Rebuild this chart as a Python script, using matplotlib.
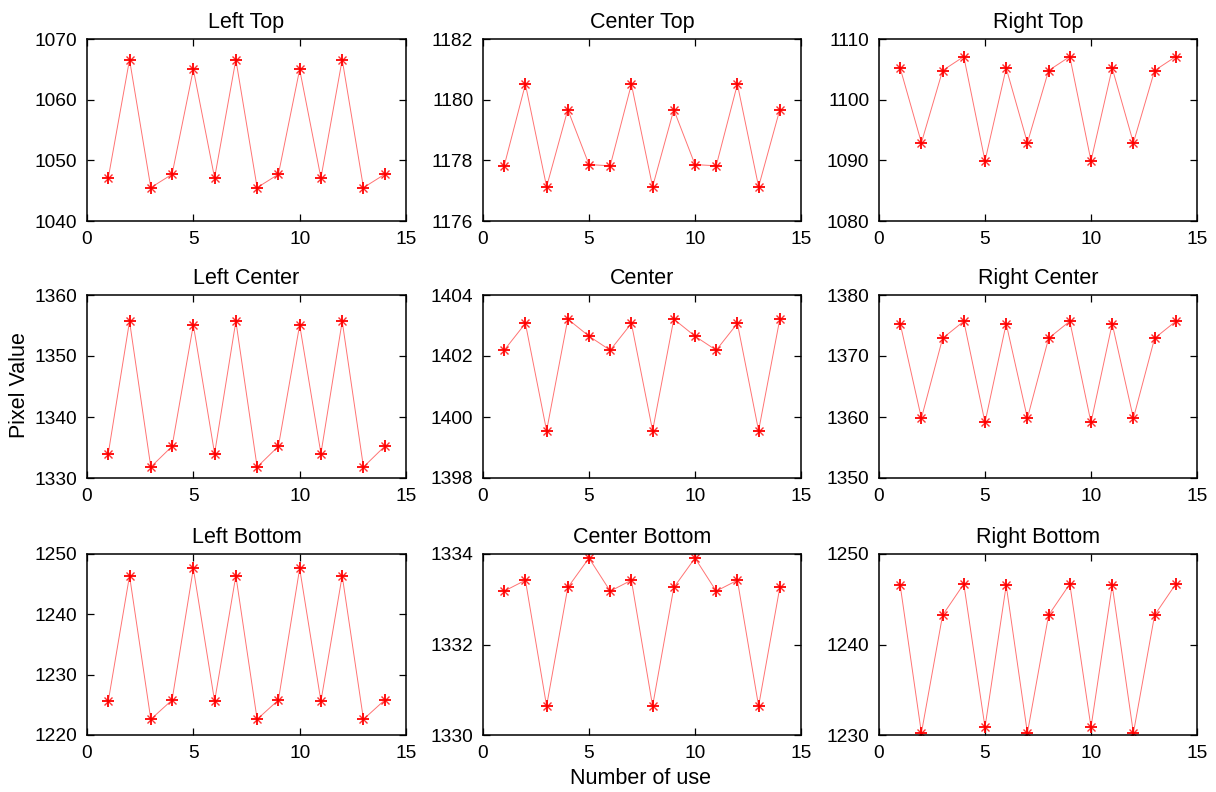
import matplotlib
matplotlib.use("Agg")
import matplotlib.pyplot as plt

plt.rcParams['font.family'] = ['Liberation Sans', 'DejaVu Sans']

uses = list(range(1, 15))

titles = ["Left Top", "Center Top", "Right Top",
          "Left Center", "Center", "Right Center",
          "Left Bottom", "Center Bottom", "Right Bottom"]

left_top = [1047.1, 1066.6, 1045.5, 1047.7, 1065.0, 1047.1, 1066.6,
            1045.5, 1047.7, 1065.0, 1047.1, 1066.6, 1045.5, 1047.7]
center_top = [1177.82, 1180.51, 1177.13, 1179.67, 1177.86, 1177.82, 1180.51,
              1177.13, 1179.67, 1177.86, 1177.82, 1180.51, 1177.13, 1179.67]
right_top = [1105.2, 1092.9, 1104.8, 1107.1, 1089.9, 1105.2, 1092.9,
             1104.8, 1107.1, 1089.9, 1105.2, 1092.9, 1104.8, 1107.1]
left_center = [1334.0, 1355.7, 1331.8, 1335.2, 1355.1, 1334.0, 1355.7,
               1331.8, 1335.2, 1355.1, 1334.0, 1355.7, 1331.8, 1335.2]
center = [1402.19, 1403.07, 1399.55, 1403.21, 1402.65, 1402.19, 1403.07,
          1399.55, 1403.21, 1402.65, 1402.19, 1403.07, 1399.55, 1403.21]
right_center = [1375.3, 1359.8, 1372.9, 1375.7, 1359.1, 1375.3, 1359.8,
                1372.9, 1375.7, 1359.1, 1375.3, 1359.8, 1372.9, 1375.7]
left_bottom = [1225.6, 1246.4, 1222.6, 1225.8, 1247.6, 1225.6, 1246.4,
               1222.6, 1225.8, 1247.6, 1225.6, 1246.4, 1222.6, 1225.8]
center_bottom = [1333.18, 1333.42, 1330.64, 1333.26, 1333.91, 1333.18, 1333.42,
                 1330.64, 1333.26, 1333.91, 1333.18, 1333.42, 1330.64, 1333.26]
right_bottom = [1246.54, 1230.22, 1243.24, 1246.69, 1230.85, 1246.54, 1230.22,
                1243.24, 1246.69, 1230.85, 1246.54, 1230.22, 1243.24, 1246.69]

series = [left_top, center_top, right_top,
          left_center, center, right_center,
          left_bottom, center_bottom, right_bottom]

y_limits = [(1040, 1070), (1176, 1182), (1080, 1110),
            (1330, 1360), (1398, 1404), (1350, 1380),
            (1220, 1250), (1330, 1334), (1230, 1250)]
y_steps = [10, 2, 10, 10, 2, 10, 10, 2, 10]

x_ticks = [0, 5, 10, 15]

W, H = 1216, 792
fig = plt.figure(figsize=(W / 100, H / 100), dpi=100)

col_px = [(87, 406), (483, 801), (879, 1197)]
row_px = [(39, 221), (295, 478), (554, 735)]

for i, (title, vals) in enumerate(zip(titles, series)):
    r, c = divmod(i, 3)
    x0, x1 = col_px[c]
    y0, y1 = row_px[r]
    ax = fig.add_axes([x0 / W, 1 - y1 / H, (x1 - x0) / W, (y1 - y0) / H])
    ax.plot(uses, vals, color='red', lw=0.7, alpha=0.55)
    # asterisk marker: a bold plus with a lighter cross
    ax.plot(uses, vals, linestyle='none', marker='+',
            markersize=8, markeredgewidth=1.3, color='red')
    ax.plot(uses, vals, linestyle='none', marker='x',
            markersize=6, markeredgewidth=1.0, color='red', alpha=0.8)
    lo, hi = y_limits[i]
    ax.set_ylim(lo, hi)
    ax.set_xlim(0, 15)
    ax.set_xticks(x_ticks)
    ax.set_yticks(list(range(lo, hi + 1, y_steps[i])))
    ax.tick_params(direction='in', top=True, right=True, length=5,
                   width=0.9, labelsize=13.8, pad=7)
    for sp in ax.spines.values():
        sp.set_linewidth(1.1)
    ax.set_title(title, fontsize=15.5, pad=8)

fig.text(20 / W, 1 - 385 / H, "Pixel Value", rotation=90,
         ha='center', va='center', fontsize=15.5)
fig.text(641 / W, 1 - 779 / H, "Number of use",
         ha='center', va='center', fontsize=15.5)

fig.savefig("out.png", dpi=100, facecolor='white')
